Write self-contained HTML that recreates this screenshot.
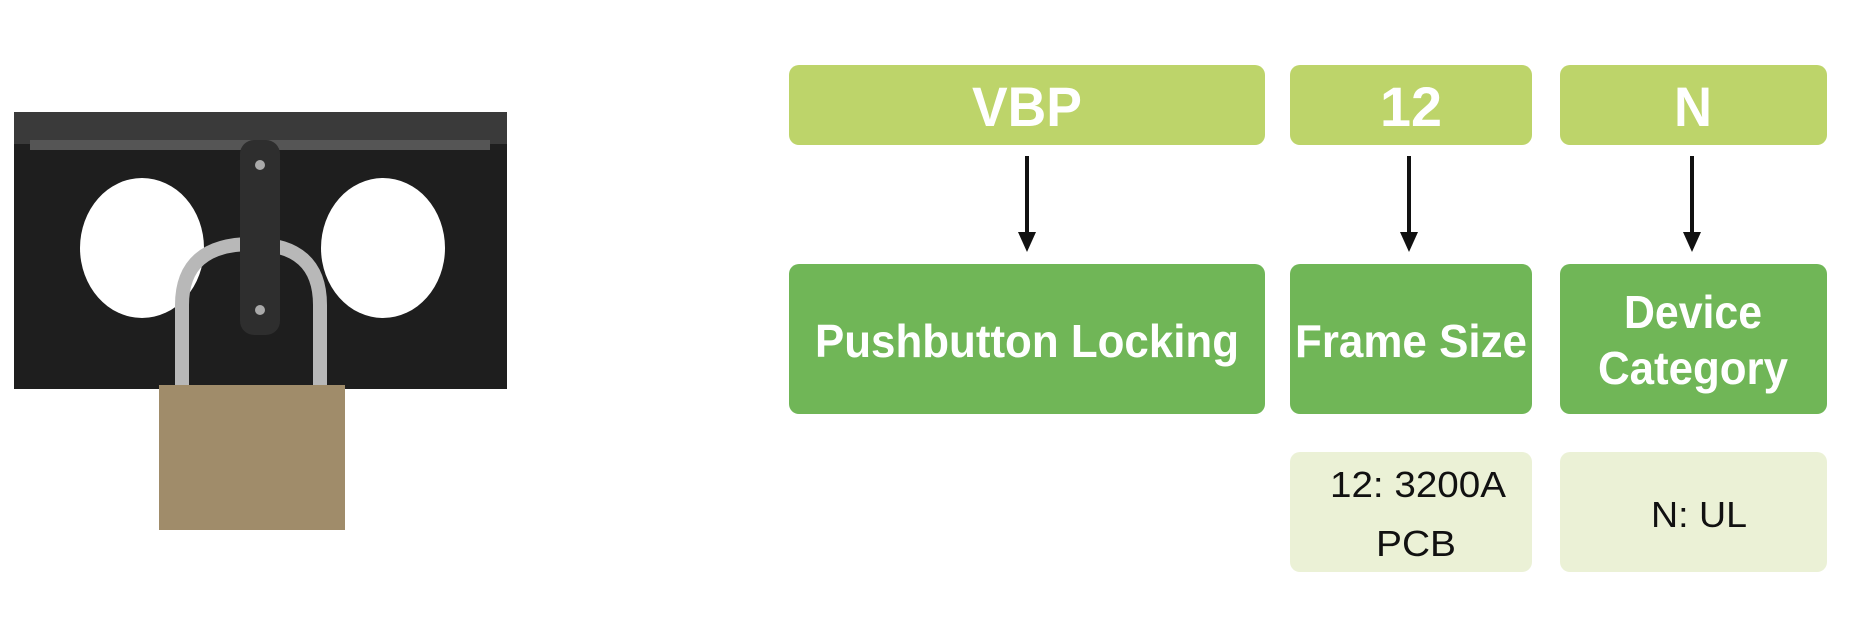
<!DOCTYPE html>
<html><head><style>html,body{margin:0;padding:0;background:#fff;}</style></head>
<body>
<svg width="1850" height="631" viewBox="0 0 1850 631" xmlns="http://www.w3.org/2000/svg" font-family="Liberation Sans, Arial, sans-serif">
<rect width="1850" height="631" fill="#fff"/>
<!-- lock illustration -->
<rect x="14" y="112" width="493" height="277" fill="#1e1e1e"/>
<rect x="14" y="112" width="493" height="32" fill="#3a3a3a"/>
<rect x="30" y="140" width="460" height="10" fill="#555"/>
<ellipse cx="142" cy="248" rx="62" ry="70" fill="#fff"/>
<ellipse cx="383" cy="248" rx="62" ry="70" fill="#fff"/>
<path d="M182 385 L182 305 Q182 244 252 244 Q320 244 320 305 L320 385" fill="none" stroke="#b8b8b8" stroke-width="14"/>
<rect x="240" y="140" width="40" height="195" rx="14" fill="#2e2e2e"/>
<circle cx="260" cy="165" r="5" fill="#aaa"/>
<circle cx="260" cy="310" r="5" fill="#aaa"/>
<rect x="159" y="385" width="186" height="145" fill="#a08c6a"/>
<!-- top boxes -->
<g fill="#bdd46a">
<rect x="789" y="65" width="476" height="80" rx="10"/>
<rect x="1290" y="65" width="242" height="80" rx="10"/>
<rect x="1560" y="65" width="267" height="80" rx="10"/>
</g>
<g fill="#fff" font-weight="bold" font-size="56" text-anchor="middle">
<text x="1027" y="126" textLength="110" lengthAdjust="spacingAndGlyphs">VBP</text>
<text x="1411" y="126" textLength="62" lengthAdjust="spacingAndGlyphs">12</text>
<text x="1693" y="126" textLength="38" lengthAdjust="spacingAndGlyphs">N</text>
</g>
<!-- arrows -->
<g stroke="#111" stroke-width="4">
<line x1="1027" y1="156" x2="1027" y2="235"/>
<line x1="1409" y1="156" x2="1409" y2="235"/>
<line x1="1692" y1="156" x2="1692" y2="235"/>
</g>
<g fill="#111">
<polygon points="1018,232 1036,232 1027,252"/>
<polygon points="1400,232 1418,232 1409,252"/>
<polygon points="1683,232 1701,232 1692,252"/>
</g>
<!-- green boxes -->
<g fill="#70b657">
<rect x="789" y="264" width="476" height="150" rx="10"/>
<rect x="1290" y="264" width="242" height="150" rx="10"/>
<rect x="1560" y="264" width="267" height="150" rx="10"/>
</g>
<g fill="#fff" font-weight="bold" font-size="46" text-anchor="middle">
<text x="1027" y="357" textLength="424" lengthAdjust="spacingAndGlyphs">Pushbutton Locking</text>
<text x="1411" y="357" textLength="232" lengthAdjust="spacingAndGlyphs">Frame Size</text>
<text x="1693" y="328" textLength="138" lengthAdjust="spacingAndGlyphs">Device</text>
<text x="1693" y="384" textLength="190" lengthAdjust="spacingAndGlyphs">Category</text>
</g>
<!-- light boxes -->
<g fill="#ebf1d6">
<rect x="1290" y="452" width="242" height="120" rx="10"/>
<rect x="1560" y="452" width="267" height="120" rx="10"/>
</g>
<g fill="#111" font-size="36" text-anchor="middle">
<text x="1418" y="497" textLength="176" lengthAdjust="spacingAndGlyphs">12: 3200A</text>
<text x="1416" y="556" textLength="80" lengthAdjust="spacingAndGlyphs">PCB</text>
<text x="1699" y="527" textLength="96" lengthAdjust="spacingAndGlyphs">N: UL</text>
</g>
</svg>
</body></html>
